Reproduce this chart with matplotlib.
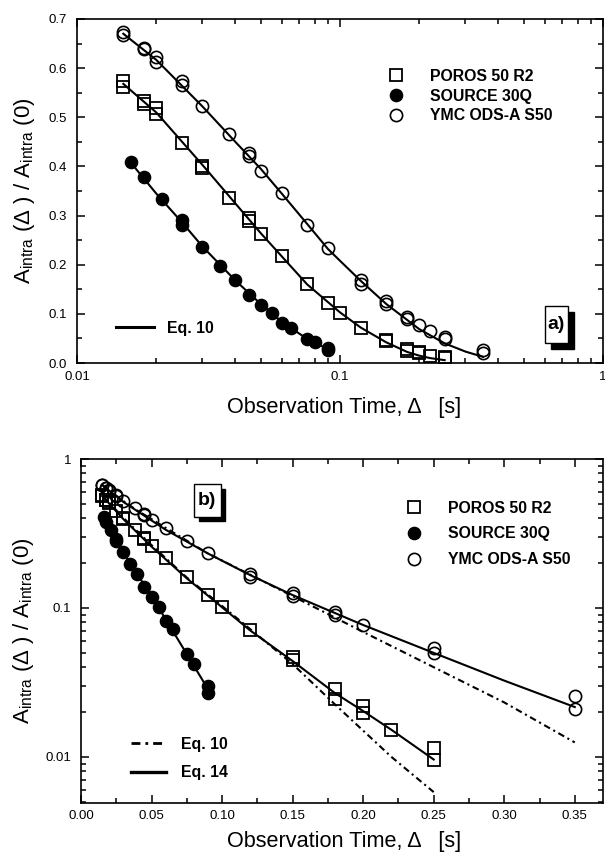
import matplotlib
matplotlib.use('Agg')
import matplotlib.pyplot as plt
from matplotlib.lines import Line2D
from matplotlib.patches import Rectangle
from matplotlib.ticker import FixedLocator, LogLocator, MultipleLocator, FuncFormatter, NullFormatter

plt.rcParams['font.family'] = ['Liberation Sans', 'DejaVu Sans']
plt.rcParams['mathtext.fontset'] = 'custom'
plt.rcParams['mathtext.rm'] = 'Liberation Sans'
plt.rcParams['mathtext.it'] = 'Liberation Sans:italic'
plt.rcParams['mathtext.bf'] = 'Liberation Sans:bold'

# ---------------- data ----------------
series_names = ["POROS 50 R2", "SOURCE 30Q", "YMC ODS-A S50"]
fit_names = ["Eq. 10", "Eq. 14"]

poros_t = [0.015, 0.015, 0.018, 0.018, 0.02, 0.02, 0.025, 0.03, 0.03, 0.038, 0.045, 0.045,
           0.05, 0.06, 0.075, 0.09, 0.1, 0.12, 0.15, 0.15, 0.18, 0.18, 0.2, 0.2, 0.22, 0.25, 0.25]
poros_v = [0.574, 0.561, 0.533, 0.528, 0.518, 0.506, 0.447, 0.401, 0.396, 0.336, 0.296, 0.289,
           0.262, 0.2175, 0.161, 0.122, 0.102, 0.0715, 0.047, 0.045, 0.0285, 0.0246, 0.0219, 0.0196,
           0.0151, 0.0115, 0.0095]

source_t = [0.016, 0.018, 0.021, 0.025, 0.025, 0.03, 0.035, 0.04, 0.045, 0.05, 0.055, 0.06,
            0.065, 0.075, 0.08, 0.09, 0.09]
source_v = [0.408, 0.378, 0.334, 0.290, 0.280, 0.236, 0.197, 0.168, 0.139, 0.119, 0.102, 0.082,
            0.072, 0.049, 0.042, 0.0297, 0.027]

ymc_t = [0.015, 0.015, 0.018, 0.018, 0.02, 0.02, 0.025, 0.025, 0.03, 0.038, 0.045, 0.045, 0.05,
         0.06, 0.075, 0.09, 0.12, 0.12, 0.15, 0.15, 0.18, 0.18, 0.2, 0.25, 0.25, 0.35, 0.35]
ymc_v = [0.673, 0.667, 0.642, 0.639, 0.622, 0.612, 0.574, 0.565, 0.522, 0.466, 0.427, 0.421, 0.391,
         0.345, 0.280, 0.234, 0.169, 0.161, 0.126, 0.120, 0.0935, 0.0897, 0.0767, 0.0535, 0.0496,
         0.0257, 0.0209]
# extra point only visible in panel a)
ymc_extra_t = [0.22]
ymc_extra_v = [0.065]

# Eq. 10 curves
ymc_eq10_t = [0.015, 0.02, 0.03, 0.04, 0.05, 0.06, 0.075, 0.09, 0.1, 0.12, 0.15, 0.2, 0.25, 0.3, 0.35]
ymc_eq10_v = [0.670, 0.617, 0.522, 0.450, 0.395, 0.345, 0.283, 0.232, 0.208, 0.167, 0.120, 0.069,
              0.040, 0.0232, 0.0125]
poros_eq10_t = [0.015, 0.02, 0.03, 0.05, 0.075, 0.1, 0.12, 0.15, 0.18, 0.2, 0.22, 0.25]
poros_eq10_v = [0.568, 0.510, 0.403, 0.264, 0.160, 0.103, 0.072, 0.042, 0.0225, 0.0150, 0.0100, 0.0058]
source_fit_t = [0.016, 0.02, 0.025, 0.03, 0.04, 0.05, 0.06, 0.075, 0.09]
source_fit_v = [0.408, 0.345, 0.287, 0.237, 0.168, 0.120, 0.084, 0.049, 0.0285]

# Eq. 14 curves
ymc_eq14_t = [0.015, 0.03, 0.06, 0.09, 0.12, 0.15, 0.2, 0.25, 0.3, 0.35]
ymc_eq14_v = [0.670, 0.515, 0.335, 0.232, 0.166, 0.122, 0.0768, 0.0499, 0.0325, 0.0216]
poros_eq14_t = [0.015, 0.03, 0.05, 0.075, 0.1, 0.12, 0.15, 0.18, 0.2, 0.22, 0.25]
poros_eq14_v = [0.565, 0.395, 0.258, 0.158, 0.101, 0.0705, 0.044, 0.0268, 0.0203, 0.0152, 0.0096]

# ---------------- figure ----------------
W, H = 605, 855
fig = plt.figure(figsize=(W / 100, H / 100), dpi=100)
axA = fig.add_axes([77 / W, 1 - 363 / H, 526 / W, 344 / H])
axB = fig.add_axes([81 / W, 1 - 803 / H, 522 / W, 344 / H])

LW = 1.5
sq = dict(marker='s', ms=8.0, mfc='none', mec='black', mew=1.3, ls='none')
fc = dict(marker='o', ms=8.8, mfc='black', mec='black', mew=1.0, ls='none')
oc = dict(marker='o', ms=8.8, mfc='none', mec='black', mew=1.2, ls='none')
dashdot = (0, (3.2, 1.8, 1.0, 1.8))

tick_fs = 9.5
label_fs = 15.6
ylabel_fs = 16
leg_prop = {'weight': 'bold', 'size': 11.4}
ylab = r'A$_{\mathregular{intra}}$ (Δ ) / A$_{\mathregular{intra}}$ (0)'
xlab = 'Observation Time, Δ   [s]'


def style_axes(ax):
    for s in ax.spines.values():
        s.set_linewidth(1.2)
    ax.tick_params(which='both', direction='in', top=True, right=True, width=1.1,
                   labelsize=tick_fs, colors='black')
    ax.tick_params(which='major', length=6)
    ax.tick_params(which='minor', length=3.5)


def panel_box(ax, x, y, w, h, dx, dy, text, fs):
    ax.add_patch(Rectangle((x + dx, y - dy), w, h, transform=ax.transAxes,
                           facecolor='black', edgecolor='black', clip_on=False, zorder=5))
    ax.add_patch(Rectangle((x, y), w, h, transform=ax.transAxes, facecolor='white',
                           edgecolor='black', lw=1.0, clip_on=False, zorder=6))
    ax.text(x + w / 2, y + h / 2, text, transform=ax.transAxes, ha='center', va='center',
            fontsize=fs, fontweight='bold', zorder=7)


# ---------------- panel a ----------------
ax = axA
ax.set_xscale('log')
ax.plot(ymc_eq10_t, ymc_eq10_v, color='black', lw=LW)
ax.plot(poros_eq10_t, poros_eq10_v, color='black', lw=LW)
ax.plot(source_fit_t, source_fit_v, color='black', lw=LW)
ax.plot(poros_t, poros_v, **sq)
ax.plot(source_t, source_v, **fc)
ax.plot(ymc_t, ymc_v, **oc)
ax.plot(ymc_extra_t, ymc_extra_v, **oc)
ax.set_xlim(0.01, 1)
ax.set_ylim(0, 0.7)
style_axes(ax)
ax.xaxis.set_major_locator(FixedLocator([0.01, 0.1, 1]))
ax.xaxis.set_minor_locator(LogLocator(base=10, subs=range(2, 10)))
ax.xaxis.set_minor_formatter(NullFormatter())
ax.xaxis.set_major_formatter(FuncFormatter(lambda v, p: '%g' % v))
ax.yaxis.set_major_locator(MultipleLocator(0.1))
ax.yaxis.set_minor_locator(MultipleLocator(0.05))
ax.yaxis.set_major_formatter(FuncFormatter(lambda v, p: '%.1f' % v))
ax.tick_params(axis='x', pad=6)
ax.tick_params(axis='y', pad=7)
ax.set_xlabel(xlab, fontsize=label_fs)
ax.xaxis.set_label_coords(0.508, -0.100)
ax.set_ylabel(ylab, fontsize=ylabel_fs)
ax.yaxis.set_label_coords(-0.076, 0.5)

h_sq = Line2D([], [], **sq)
h_fc = Line2D([], [], **fc)
h_oc = Line2D([], [], **oc)
legA = ax.legend([h_sq, h_fc, h_oc], series_names, loc='upper left',
                 bbox_to_anchor=(0.595, 0.855), frameon=False, prop=leg_prop,
                 handlelength=0.8, handletextpad=1.7, labelspacing=0.30,
                 borderpad=0, borderaxespad=0, numpoints=1)
ax.add_artist(legA)
ax.legend([Line2D([], [], color='black', lw=2.2)], [fit_names[0]], loc='upper left',
          bbox_to_anchor=(0.0741, 0.123), frameon=False, prop=leg_prop,
          handlelength=2.4, handletextpad=0.82, borderpad=0, borderaxespad=0)
panel_box(ax, 0.8897, 0.0581, 0.0437, 0.1076, 0.012, 0.017, 'a)', 14)

# ---------------- panel b ----------------
ax = axB
ax.set_yscale('log')
ax.plot(ymc_eq10_t, ymc_eq10_v, color='black', lw=LW, ls=dashdot)
ax.plot(poros_eq10_t, poros_eq10_v, color='black', lw=LW, ls=dashdot)
ax.plot(ymc_eq14_t, ymc_eq14_v, color='black', lw=LW)
ax.plot(poros_eq14_t, poros_eq14_v, color='black', lw=LW)
ax.plot(source_fit_t, source_fit_v, color='black', lw=LW)
ax.plot(poros_t, poros_v, **sq)
ax.plot(source_t, source_v, **fc)
ax.plot(ymc_t, ymc_v, **oc)
ax.set_xlim(0, 0.37)
ax.set_ylim(0.0049, 1)
style_axes(ax)
ax.xaxis.set_major_locator(MultipleLocator(0.05))
ax.xaxis.set_minor_locator(MultipleLocator(0.025))
ax.xaxis.set_major_formatter(FuncFormatter(lambda v, p: '%.2f' % v))
ax.yaxis.set_major_locator(FixedLocator([0.01, 0.1, 1]))
ax.yaxis.set_minor_locator(LogLocator(base=10, subs=range(2, 10)))
ax.yaxis.set_minor_formatter(NullFormatter())
ax.yaxis.set_major_formatter(FuncFormatter(lambda v, p: '%g' % v))
ax.tick_params(axis='x', pad=5)
ax.tick_params(axis='y', pad=7)
ax.set_xlabel(xlab, fontsize=label_fs)
ax.xaxis.set_label_coords(0.504, -0.080)
ax.set_ylabel(ylab, fontsize=ylabel_fs)
ax.yaxis.set_label_coords(-0.086, 0.5)

legB = ax.legend([h_sq, h_fc, h_oc], series_names, loc='upper left',
                 bbox_to_anchor=(0.6264, 0.879), frameon=False, prop=leg_prop,
                 handlelength=0.8, handletextpad=1.7, labelspacing=0.68,
                 borderpad=0, borderaxespad=0, numpoints=1)
ax.add_artist(legB)
ax.legend([Line2D([], [], color='black', lw=2.0, ls=dashdot),
           Line2D([], [], color='black', lw=2.4)], fit_names, loc='upper left',
          bbox_to_anchor=(0.0958, 0.193), frameon=False, prop=leg_prop,
          handlelength=2.2, handletextpad=0.95, labelspacing=0.85,
          borderpad=0, borderaxespad=0)
panel_box(ax, 0.2165, 0.8323, 0.0511, 0.0942, 0.009, 0.013, 'b)', 14)

fig.savefig('out.png', dpi=100)
